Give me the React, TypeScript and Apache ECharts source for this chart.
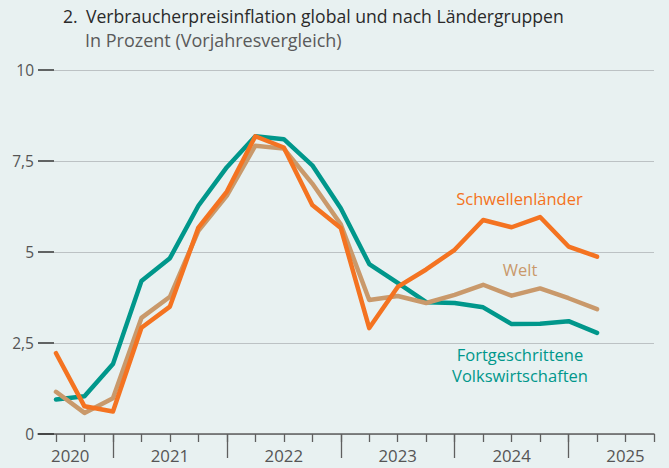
import React, { useEffect, useRef } from "react";
import * as echarts from "echarts";

// Quarterly points (first point is one half-year before the 2021 boundary)
const quarterCount = 22; // tick positions along the axis
const yearLabels = ["2020", "2021", "2022", "2023", "2024", "2025"];
const yearLabelHalfSteps = [1, 8, 16, 24, 32, 40]; // positions in half-quarter steps
const yearBoundaryTicks = [2, 6, 10, 14, 18];

const fortgeschrittene = [0.95, 1.04, 1.92, 4.2, 4.83, 6.27, 7.33, 8.18, 8.1, 7.38, 6.2, 4.67, 4.15, 3.62, 3.6, 3.48, 3.02, 3.03, 3.1, 2.78];
const welt = [1.16, 0.58, 0.98, 3.19, 3.77, 5.58, 6.55, 7.92, 7.84, 6.88, 5.76, 3.68, 3.79, 3.6, 3.82, 4.1, 3.8, 4.0, 3.73, 3.43];
const schwellenlaender = [2.22, 0.76, 0.62, 2.92, 3.5, 5.67, 6.66, 8.18, 7.87, 6.29, 5.66, 2.91, 4.04, 4.52, 5.06, 5.88, 5.68, 5.96, 5.15, 4.87];

const yTicks = [0, 2.5, 5, 7.5, 10];

const TEAL = "#00978b";
const ORANGE = "#f47321";
const TAN = "#c9996b";
const FONT = "'Open Sans', 'Noto Sans', sans-serif";

export default function App() {
  const ref = useRef<HTMLDivElement>(null);
  useEffect(() => {
    document.body.style.margin = "0";
    if (!ref.current) return;
    const chart = echarts.init(ref.current, undefined, { renderer: "svg" });

    const quarterCats = Array.from({ length: quarterCount }, (_, i) => "Q" + i);
    const halfCats = Array.from({ length: quarterCount * 2 - 1 }, (_, i) => {
      const k = yearLabelHalfSteps.indexOf(i);
      return k >= 0 ? yearLabels[k] : "";
    });

    const top = 70;
    const bottom = 34;
    const right = 15;

    const option: any = {
      animation: false,
      backgroundColor: "#e8f1f1",
      textStyle: { fontFamily: FONT },
      grid: [
        { left: 38, right, top, bottom },
        { left: 54, right, top, bottom },
        { left: 56, right, top, bottom },
        { left: 56, right, top, bottom },
        { left: 56, right, top, bottom },
      ],
      xAxis: [
        {
          gridIndex: 0, type: "value", min: 0, max: 1, z: 5,
          axisLine: { show: true, lineStyle: { color: "#5f5f5f", width: 1.5 } },
          axisTick: { show: false }, axisLabel: { show: false }, splitLine: { show: false },
        },
        {
          gridIndex: 1, type: "value", min: 0, max: 1, show: false,
        },
        {
          gridIndex: 2, type: "category", data: quarterCats, boundaryGap: false,
          axisLine: { show: false },
          axisTick: { show: true, interval: 0, length: 8, lineStyle: { color: "#5f5f5f", width: 1.3 } },
          axisLabel: { show: false }, splitLine: { show: false },
        },
        {
          gridIndex: 3, type: "category", data: quarterCats, boundaryGap: false,
          axisLine: { show: false },
          axisTick: {
            show: true, length: 24,
            interval: (idx: number) => yearBoundaryTicks.indexOf(idx) >= 0,
            lineStyle: { color: "#5f5f5f", width: 1.3 },
          },
          axisLabel: { show: false }, splitLine: { show: false },
        },
        {
          gridIndex: 4, type: "category", data: halfCats, boundaryGap: false,
          axisLine: { show: false }, axisTick: { show: false },
          axisLabel: { show: true, interval: 0, margin: 13, color: "#555", fontSize: 16.8, fontFamily: FONT },
          splitLine: { show: false },
        },
      ],
      yAxis: [
        {
          gridIndex: 0, type: "value", min: yTicks[0], max: yTicks[yTicks.length - 1], interval: 2.5, z: 5,
          axisLine: { show: false },
          axisTick: { show: true, inside: true, length: 16, lineStyle: { color: "#333", width: 1.5 } },
          axisLabel: {
            show: true, margin: 4, color: "#555", fontSize: 15.5, fontFamily: FONT,
            formatter: (v: number) => String(v).replace(".", ","),
          },
          splitLine: { show: false },
        },
        {
          gridIndex: 1, type: "value", min: 0, max: 10, interval: 2.5,
          axisLine: { show: false }, axisTick: { show: false }, axisLabel: { show: false },
          splitLine: { show: true, lineStyle: { color: "#bcc2c4", width: 1.2 } },
        },
        { gridIndex: 2, type: "value", min: 0, max: 10, show: false },
        { gridIndex: 3, type: "value", min: 0, max: 10, show: false },
        { gridIndex: 4, type: "value", min: 0, max: 10, show: false },
      ],
      series: [
        {
          name: "Fortgeschrittene Volkswirtschaften", type: "line", xAxisIndex: 2, yAxisIndex: 2,
          data: fortgeschrittene, symbol: "none", z: 3,
          lineStyle: { color: TEAL, width: 4.5, cap: "round", join: "round" },
        },
        {
          name: "Welt", type: "line", xAxisIndex: 2, yAxisIndex: 2,
          data: welt, symbol: "none", z: 4,
          lineStyle: { color: TAN, width: 4.5, cap: "round", join: "round" },
        },
        {
          name: "Schwellenländer", type: "line", xAxisIndex: 2, yAxisIndex: 2,
          data: schwellenlaender, symbol: "none", z: 5,
          lineStyle: { color: ORANGE, width: 4.5, cap: "round", join: "round" },
        },
      ],
      graphic: [
        { type: "text", left: 63, top: 7, style: { text: "2.", fill: "#2a2a2a", fontSize: 17.6, fontFamily: FONT } },
        { type: "text", left: 86, top: 7, style: { text: "Verbraucherpreisinflation global und nach Ländergruppen", fill: "#2a2a2a", fontSize: 17.6, fontFamily: FONT } },
        { type: "text", left: 85, top: 31, style: { text: "In Prozent (Vorjahresvergleich)", fill: "#5a5a5a", fontSize: 18, fontFamily: FONT } },
        { type: "text", x: 519.5, y: 198, style: { text: "Schwellenländer", fill: ORANGE, fontSize: 16.5, fontFamily: FONT, align: "center", verticalAlign: "middle" } },
        { type: "text", x: 520, y: 269, style: { text: "Welt", fill: TAN, fontSize: 16.5, fontFamily: FONT, align: "center", verticalAlign: "middle" } },
        { type: "text", x: 520, y: 354, style: { text: "Fortgeschrittene", fill: TEAL, fontSize: 16.5, fontFamily: FONT, align: "center", verticalAlign: "middle" } },
        { type: "text", x: 520, y: 375, style: { text: "Volkswirtschaften", fill: TEAL, fontSize: 16.5, fontFamily: FONT, align: "center", verticalAlign: "middle" } },
      ],
    };
    chart.setOption(option);
    return () => chart.dispose();
  }, []);
  return (
    <div
      ref={ref}
      style={{ position: "absolute", left: 0, top: 0, width: 669, height: 468, background: "#e8f1f1" }}
    />
  );
}
